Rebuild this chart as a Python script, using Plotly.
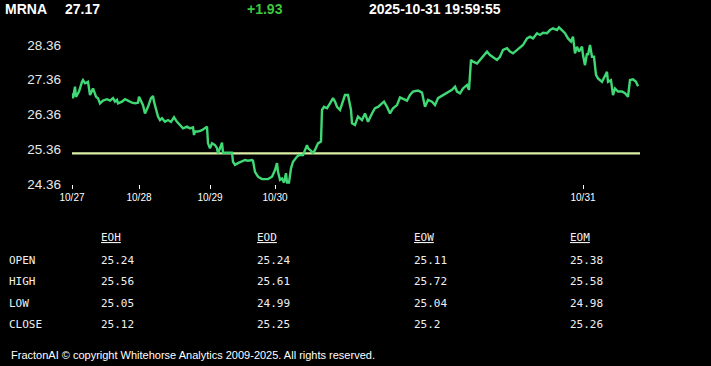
import plotly.graph_objects as go

W, H = 711, 366

symbol = "MRNA"
last_price = 27.17
change = 1.93
timestamp = "2025-10-31 19:59:55"

# bar index (time order) and price
bar_idx = [0, 1, 3, 4, 6, 7, 10, 11, 13, 16, 18, 20, 21, 24, 26, 28, 31, 35, 38, 41,
           43, 45, 46, 50, 53, 56, 60, 63, 66, 67, 69, 71, 73, 75, 76, 79, 81, 82, 84, 86,
           88, 90, 93, 96, 99, 102, 105, 108, 111, 115, 118, 121, 122, 123, 126, 130, 133, 135, 136, 138,
           140, 143, 145, 146, 148, 150, 151, 155, 158, 160, 161, 163, 166, 170, 173, 176, 180, 181, 183, 186,
           190, 193, 196, 200, 203, 205, 206, 208, 210, 212, 214, 215, 217, 219, 221, 223, 225, 227, 231, 235,
           236, 240, 241, 243, 246, 249, 250, 252, 255, 258, 261, 263, 265, 268, 271, 273, 276, 279, 280, 283,
           286, 290, 293, 296, 300, 303, 306, 310, 312, 315, 318, 321, 325, 328, 331, 335, 338, 341, 346, 350,
           353, 356, 360, 363, 366, 371, 376, 380, 383, 385, 388, 391, 395, 397, 399, 401, 405, 408, 411, 415,
           418, 421, 425, 428, 431, 435, 438, 441, 445, 448, 451, 455, 458, 461, 465, 468, 471, 475, 478, 481,
           485, 487, 490, 493, 496, 499, 501, 503, 505, 507, 510, 511, 513, 515, 516, 518, 520, 522, 524, 526,
           530, 533, 535, 536, 539, 541, 543, 546, 550, 553, 556, 558, 561, 564, 566]
price = [26.97, 26.83, 27.16, 26.87, 26.97, 27.02, 27.30, 27.35, 27.26, 27.30, 26.92, 27.02, 27.11, 26.87, 26.83, 26.68, 26.76, 26.80, 26.76, 26.83,
         26.73, 26.78, 26.68, 26.73, 26.80, 26.76, 26.70, 26.68, 26.70, 26.87, 26.73, 26.63, 26.39, 26.49, 26.58, 26.83, 26.89, 26.73, 26.49, 26.30,
         26.20, 26.25, 26.15, 26.20, 26.15, 26.28, 26.15, 26.06, 25.96, 26.01, 25.96, 25.99, 25.77, 25.87, 25.87, 25.91, 25.96, 26.01, 25.53, 25.39,
         25.53, 25.48, 25.39, 25.24, 25.39, 25.55, 25.26, 25.26, 25.24, 25.26, 25.00, 24.91, 24.96, 25.00, 25.05, 25.03, 25.05, 25.03, 24.71, 24.57,
         24.50, 24.50, 24.50, 24.57, 24.76, 24.96, 24.71, 24.48, 24.52, 24.40, 24.67, 24.40, 24.40, 24.81, 25.00, 25.07, 25.15, 25.19, 25.19, 25.48,
         25.39, 25.29, 25.24, 25.34, 25.53, 25.58, 26.49, 26.58, 26.54, 26.68, 26.83, 26.73, 26.58, 26.49, 26.73, 26.92, 26.92, 26.49, 26.11, 26.06,
         26.30, 26.20, 26.39, 26.15, 26.39, 26.54, 26.58, 26.68, 26.73, 26.58, 26.39, 26.54, 26.63, 26.85, 26.81, 26.76, 26.92, 27.02, 27.05, 26.99,
         26.58, 26.78, 26.73, 26.63, 26.83, 26.92, 27.02, 27.07, 27.16, 27.02, 26.97, 27.11, 27.21, 27.07, 27.93, 27.88, 27.83, 27.93, 28.02, 28.17,
         28.07, 28.02, 27.93, 28.02, 28.22, 28.27, 28.17, 28.12, 28.22, 28.27, 28.36, 28.55, 28.60, 28.55, 28.70, 28.65, 28.71, 28.70, 28.79, 28.84,
         28.79, 28.87, 28.79, 28.70, 28.55, 28.46, 28.60, 28.12, 28.31, 28.17, 28.31, 28.07, 27.78, 28.12, 28.07, 28.36, 28.02, 28.02, 27.50, 27.40,
         27.30, 27.50, 27.59, 27.30, 27.35, 26.92, 27.11, 27.02, 27.02, 26.97, 26.87, 27.35, 27.37, 27.30, 27.17]

prev_close = round(last_price - change, 2)

date_labels = ["10/27", "10/28", "10/29", "10/30", "10/31"]
date_ticks = [0, 67, 138, 203, 511]
y_ticks = [24.36, 25.36, 26.36, 27.36, 28.36]

table_cols = ["EOH", "EOD", "EOW", "EOM"]
table_rows = ["OPEN", "HIGH", "LOW", "CLOSE"]
table_vals = {
    "EOH": ["25.24", "25.56", "25.05", "25.12"],
    "EOD": ["25.24", "25.61", "24.99", "25.25"],
    "EOW": ["25.11", "25.72", "25.04", "25.2"],
    "EOM": ["25.38", "25.58", "24.98", "25.26"],
}

footer = "FractonAI © copyright Whitehorse Analytics 2009-2025. All rights reserved."

x_max = 568

fig = go.Figure()
fig.add_trace(go.Scatter(x=[0, x_max], y=[prev_close, prev_close], mode="lines",
                         line=dict(color="#dcefa6", width=2.2), hoverinfo="skip"))
fig.add_trace(go.Scatter(x=bar_idx, y=price, mode="lines",
                         line=dict(color="#3fd874", width=2.4)))


def px(x):
    return x / W


def py(y):
    return 1 - y / H


ann = []
hdr_font = dict(family="Liberation Sans, Arial", size=14, color="#ffffff")
ann.append(dict(text="<b>%s</b>" % symbol, x=px(3), y=py(9), font=hdr_font))
ann.append(dict(text="<b>%.2f</b>" % last_price, x=px(63), y=py(9), font=hdr_font))
ann.append(dict(text="<b>+%.2f</b>" % change, x=px(245), y=py(9),
                font=dict(family="Liberation Sans, Arial", size=14, color="#3cc83c")))
ann.append(dict(text="<b>%s</b>" % timestamp, x=px(367), y=py(9), font=hdr_font))

mono = dict(family="DejaVu Sans Mono, monospace", size=11, color="#f0f0f0")
col_x = [99, 255, 412, 568]
row_y = [260, 281, 303, 324]
for cx, c in zip(col_x, table_cols):
    ann.append(dict(text="<u>%s</u>" % c, x=px(cx), y=py(238), font=mono))
    for ry, v in zip(row_y, table_vals[c]):
        ann.append(dict(text=v, x=px(cx), y=py(ry), font=mono))
for ry, r in zip(row_y, table_rows):
    ann.append(dict(text=r, x=px(7), y=py(ry), font=mono))

ann.append(dict(text=footer, x=px(9), y=py(355),
                font=dict(family="Liberation Sans, Arial", size=11, color="#ffffff")))

for a in ann:
    a.update(xref="paper", yref="paper", xanchor="left", yanchor="middle", showarrow=False)

y_bottom_px, y_top_px = 184, 22
unit_px = 34.75
y_lo = 24.36
y_hi = y_lo + (y_bottom_px - y_top_px) / unit_px

fig.update_layout(
    width=W, height=H,
    margin=dict(l=0, r=0, t=0, b=0, pad=0, autoexpand=False),
    paper_bgcolor="#000000", plot_bgcolor="#000000",
    showlegend=False,
    annotations=ann,
    xaxis=dict(domain=[px(72), px(72 + x_max)], range=[0, x_max], automargin=False,
               showgrid=False, zeroline=False, showline=False,
               tickmode="array", tickvals=date_ticks, ticktext=date_labels,
               ticks="outside", ticklen=4, tickwidth=1, tickcolor="#ffffff",
               tickfont=dict(family="Liberation Sans, Arial", size=10, color="#ffffff")),
    yaxis=dict(domain=[py(y_bottom_px), py(y_top_px)], range=[y_lo, y_hi], automargin=False,
               showgrid=False, zeroline=False, showline=False,
               tickmode="array", tickvals=y_ticks, ticktext=["%.2f" % v for v in y_ticks],
               ticks="", ticklabelstandoff=10,
               tickfont=dict(family="Liberation Sans, Arial", size=13.5, color="#e8e8e8")),
)

fig.write_html("out.html")
